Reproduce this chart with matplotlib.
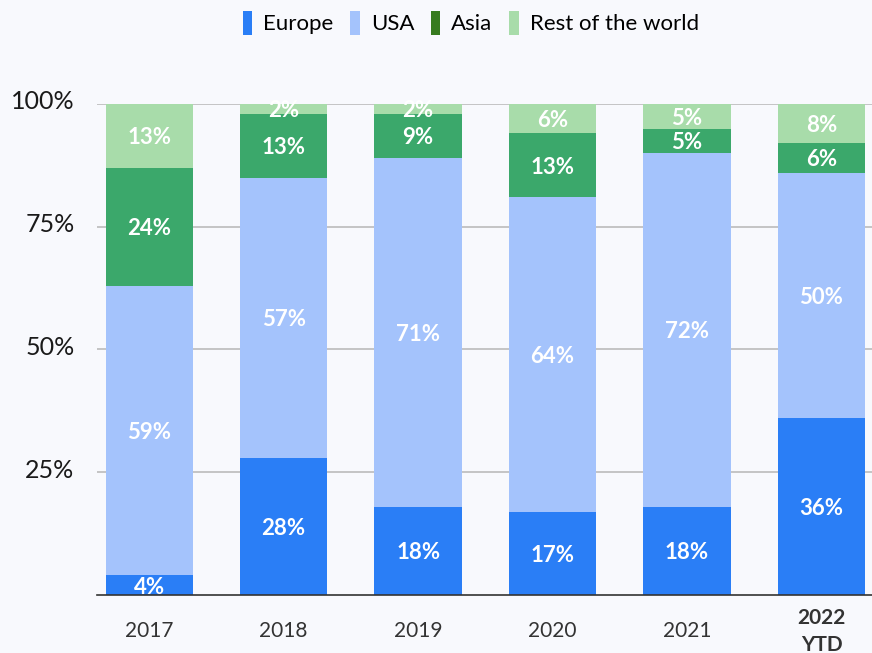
import matplotlib

matplotlib.use("Agg")
import matplotlib.pyplot as plt
import matplotlib.transforms as mtransforms
import numpy as np
from matplotlib.patches import Patch

years = ["2017", "2018", "2019", "2020", "2021", "2022\nYTD"]
europe = [4, 28, 18, 17, 18, 36]
usa = [59, 57, 71, 64, 72, 50]
asia = [24, 13, 9, 13, 5, 6]
rest = [13, 2, 2, 6, 5, 8]
series_names = ["Europe", "USA", "Asia", "Rest of the world"]

BG = "#f8f9fd"
BAR_COLORS = ["#2a7ef6", "#a4c3fc", "#3ba86b", "#a8dcaa"]
LEGEND_COLORS = ["#2a7ef6", "#a4c3fc", "#377b1f", "#a8dcaa"]

plt.rcParams["font.family"] = ["Lato", "DejaVu Sans"]

fig = plt.figure(figsize=(8.72, 6.53), dpi=100, facecolor=BG)
ax = fig.add_axes([0.111, 0.0888, 0.889, 0.752], facecolor=BG)

x = np.arange(len(years))
bottom = np.zeros(len(years))
for vals, color in zip([europe, usa, asia, rest], BAR_COLORS):
    vals = np.array(vals, dtype=float)
    ax.bar(x, vals, 0.65, bottom=bottom, color=color, zorder=2)
    for xi, b, v in zip(x, bottom, vals):
        ax.text(xi, b + v / 2, f"{v:.0f}%", ha="center", va="center_baseline",
                color="white", fontsize=16, fontweight="bold", zorder=3)
    bottom += vals

ax.set_xlim(-0.39, 5.376)
ax.set_ylim(0, 100)
ax.set_yticks([25, 50, 75, 100])
ax.set_yticklabels(["25%", "50%", "75%", "100%"], fontsize=18, color="#1a1a1a")
ax.set_xticks(x)
ax.set_xticklabels(years, fontsize=15, color="#333333")
ax.tick_params(axis="y", length=0, pad=16)
ax.tick_params(axis="x", length=0, pad=26)
up = mtransforms.ScaledTranslation(0, 4 / 100, fig.dpi_scale_trans)
for lab in ax.get_yticklabels():
    lab.set_transform(lab.get_transform() + up)
for lab in ax.get_xticklabels():
    lab.set_va("center")
    lab.set_linespacing(1.45)
ax.get_xticklabels()[-1].set_fontweight("bold")
ax.grid(axis="y", color="#bbbbbb", linewidth=1.2, zorder=1)
for s in ["top", "right", "left"]:
    ax.spines[s].set_visible(False)
ax.spines["bottom"].set_color("#333333")
ax.spines["bottom"].set_linewidth(1.2)
ax.spines["bottom"].set_zorder(4)

handles = [Patch(facecolor=c, edgecolor="none") for c in LEGEND_COLORS]
fig.legend(handles, series_names, loc="center", bbox_to_anchor=(0.540, 0.965),
           ncol=4, frameon=False, fontsize=16, handlelength=0.42, handleheight=1.3,
           handletextpad=0.5, columnspacing=0.75)

fig.savefig("out.png", dpi=100, facecolor=BG)
